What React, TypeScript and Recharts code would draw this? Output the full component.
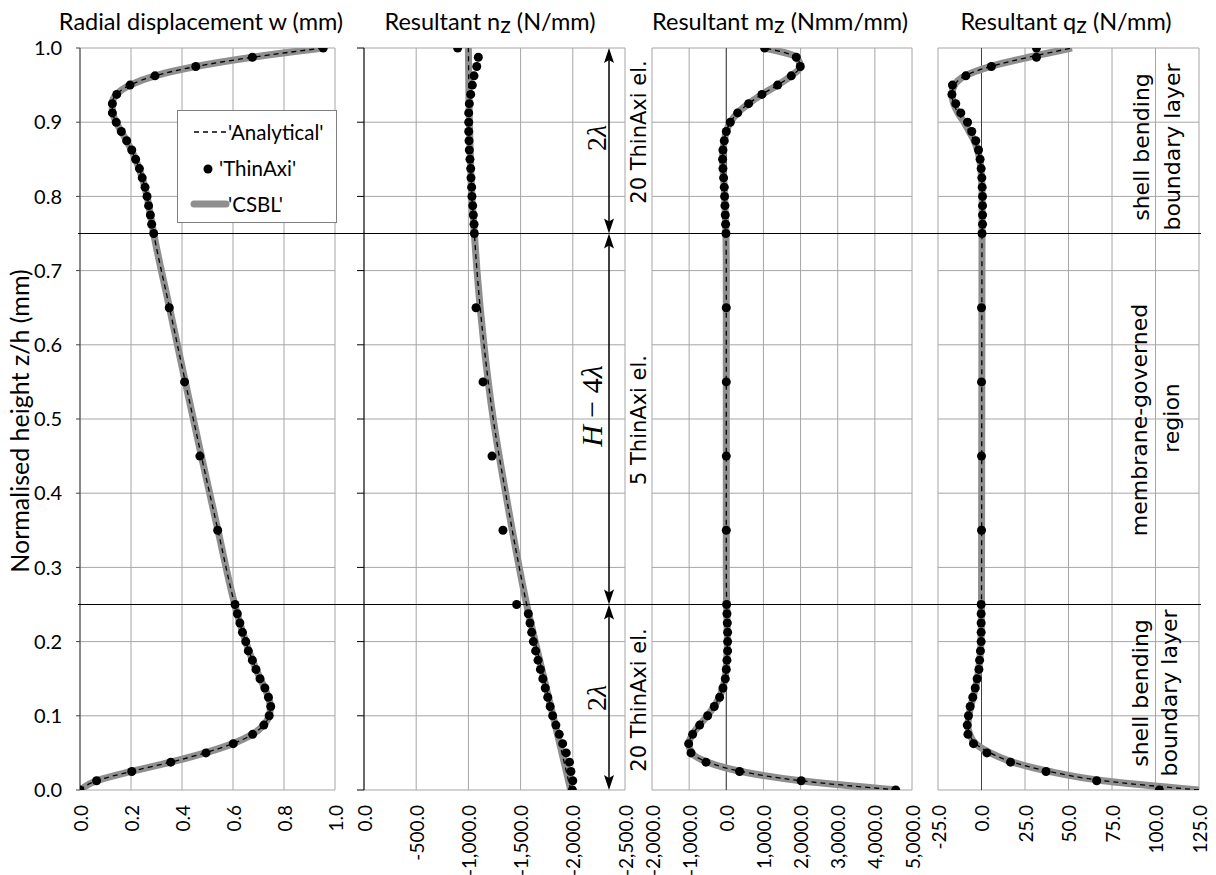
import React from 'react';
import { LineChart, Line, XAxis, YAxis, CartesianGrid, ReferenceLine } from 'recharts';

// normalised height ticks, shared by every panel
const zTicks = [0, 0.1, 0.2, 0.3, 0.4, 0.5, 0.6, 0.7, 0.8, 0.9, 1.0];
const wTicks = [0, 0.2, 0.4, 0.6, 0.8, 1.0];
const nTicks = [0, -500, -1000, -1500, -2000, -2500];
const mTicks = [-2000, -1000, 0, 1000, 2000, 3000, 4000, 5000];
const qTicks = [-25, 0, 25, 50, 75, 100, 125];

// all series are [z/h, value]
const wCurve = [
  [0, 0], [0.0125, 0.065], [0.025, 0.2], [0.0375, 0.355], [0.05, 0.49], [0.0625, 0.6], [0.075, 0.676],
  [0.0875, 0.72], [0.1, 0.742], [0.1125, 0.747], [0.125, 0.739], [0.1375, 0.724], [0.15, 0.707],
  [0.175, 0.676], [0.2, 0.65], [0.225, 0.627], [0.25, 0.607], [0.35, 0.541], [0.45, 0.476],
  [0.55, 0.413], [0.65, 0.351], [0.75, 0.289], [0.775, 0.276], [0.8, 0.263], [0.825, 0.244],
  [0.85, 0.218], [0.875, 0.183], [0.9, 0.142], [0.9125, 0.128], [0.925, 0.126], [0.9375, 0.143],
  [0.95, 0.196], [0.9625, 0.294], [0.975, 0.454], [0.9875, 0.676], [1.0, 0.954],
];
const wDots = [
  [0, 0], [0.0125, 0.065], [0.025, 0.203], [0.0375, 0.356], [0.05, 0.494], [0.0625, 0.601], [0.075, 0.677],
  [0.0875, 0.721], [0.1, 0.742], [0.1125, 0.748], [0.125, 0.739], [0.1375, 0.725], [0.15, 0.706],
  [0.1625, 0.69], [0.175, 0.676], [0.1875, 0.66], [0.2, 0.65], [0.2125, 0.637], [0.225, 0.627],
  [0.2375, 0.617], [0.25, 0.608], [0.35, 0.54], [0.45, 0.47], [0.55, 0.41], [0.65, 0.35],
  [0.75, 0.289], [0.7625, 0.281], [0.775, 0.276], [0.7875, 0.269], [0.8, 0.263], [0.8125, 0.255],
  [0.825, 0.244], [0.8375, 0.233], [0.85, 0.218], [0.8625, 0.203], [0.875, 0.183], [0.8875, 0.162],
  [0.9, 0.142], [0.9125, 0.127], [0.925, 0.127], [0.9375, 0.144], [0.95, 0.196], [0.9625, 0.294],
  [0.975, 0.454], [0.9875, 0.676], [1.0, 0.954],
];

const nCurve = [
  [0, -1980], [0.05, -1896], [0.1, -1811], [0.15, -1725], [0.2, -1640], [0.25, -1558], [0.3, -1487],
  [0.4, -1357], [0.5, -1238], [0.6, -1149], [0.7, -1082], [0.75, -1057], [0.8, -1034], [0.9, -1010],
  [1.0, -1000],
];
const nDots = [
  [0, -1996], [0.0125, -2000], [0.025, -1982], [0.0375, -1968], [0.05, -1937], [0.0625, -1903],
  [0.075, -1870], [0.0875, -1838], [0.1, -1807], [0.1125, -1783], [0.125, -1760], [0.1375, -1736],
  [0.15, -1713], [0.1625, -1690], [0.175, -1667], [0.1875, -1644], [0.2, -1622], [0.2125, -1606],
  [0.225, -1590], [0.2375, -1574], [0.25, -1462], [0.35, -1331], [0.45, -1226], [0.55, -1140],
  [0.65, -1073], [0.75, -1057], [0.7625, -1054], [0.775, -1047], [0.7875, -1041], [0.8, -1034],
  [0.8125, -1031], [0.825, -1025], [0.8375, -1022], [0.85, -1015], [0.8625, -1009], [0.875, -1006],
  [0.8875, -1003], [0.9, -1003], [0.9125, -1003], [0.925, -1009], [0.9375, -1022], [0.95, -1038],
  [0.9625, -1054], [0.975, -1080], [0.9875, -1095], [1.0, -897],
];

const mCurve = [
  [0, 4600], [0.0125, 2000], [0.025, 400], [0.0375, -500], [0.05, -930], [0.0625, -1010], [0.075, -910],
  [0.0875, -720], [0.1, -510], [0.1125, -330], [0.125, -185], [0.1375, -95], [0.15, -35], [0.175, 10],
  [0.2, 30], [0.25, 10], [0.3, 0], [0.7, 0], [0.75, -9], [0.775, -27], [0.8, -45], [0.825, -72],
  [0.8375, -90], [0.85, -99], [0.8625, -90], [0.875, -54], [0.8875, 0], [0.9, 108], [0.9125, 305],
  [0.925, 601], [0.9375, 960], [0.95, 1382], [0.9625, 1750], [0.975, 1993], [0.9875, 1885], [1.0, 1032],
];
const mDots = [
  [0, 4561], [0.0125, 2016], [0.025, 358], [0.0375, -547], [0.05, -950], [0.0625, -1013], [0.075, -905],
  [0.0875, -717], [0.1, -502], [0.1125, -323], [0.125, -179], [0.1375, -90], [0.15, -27], [0.1625, 0],
  [0.175, 18], [0.1875, 36], [0.2, 36], [0.2125, 36], [0.225, 27], [0.2375, 18], [0.25, 9],
  [0.35, 0], [0.45, 0], [0.55, 0], [0.65, 0],
  [0.75, -9], [0.7625, -18], [0.775, -27], [0.7875, -36], [0.8, -45], [0.8125, -54], [0.825, -72],
  [0.8375, -90], [0.85, -99], [0.8625, -90], [0.875, -54], [0.8875, 0], [0.9, 108], [0.9125, 305],
  [0.925, 601], [0.9375, 960], [0.95, 1382], [0.9625, 1750], [0.975, 1993], [0.9875, 1885], [1.0, 1032],
];

const qCurve = [
  [0, 125], [0.0125, 70], [0.025, 39], [0.0375, 18], [0.05, 5], [0.0625, -3.4], [0.075, -6.8],
  [0.0875, -7.8], [0.1, -7.2], [0.1125, -6.2], [0.125, -4.8], [0.15, -2.4], [0.175, -1], [0.2, -0.3],
  [0.25, 0], [0.75, 0.3], [0.8, 0.4], [0.825, 0], [0.85, -1], [0.8625, -2.3], [0.875, -4.2],
  [0.8875, -7.1], [0.9, -10], [0.9125, -13.5], [0.925, -16], [0.9375, -17], [0.95, -15.5],
  [0.9625, -9.5], [0.975, 5], [0.9875, 27], [1.0, 52],
];
const qDots = [
  [0, 102.2], [0.0125, 66.2], [0.025, 37.1], [0.0375, 16.7], [0.05, 3.1], [0.0625, -4.6], [0.075, -7.8],
  [0.0875, -8.2], [0.1, -7.5], [0.1125, -6.5], [0.125, -5], [0.1375, -3.6], [0.15, -2.5], [0.1625, -1.5],
  [0.175, -1.1], [0.1875, -0.6], [0.2, -0.2], [0.2125, -0.2], [0.225, -0.2], [0.2375, -0.2], [0.25, -0.2],
  [0.35, 0], [0.45, 0], [0.55, 0], [0.65, 0],
  [0.75, 0.3], [0.7625, 0.6], [0.775, 0.6], [0.7875, 0.6], [0.8, 0.6], [0.8125, 0.4], [0.825, 0.2],
  [0.8375, -0.2], [0.85, -0.8], [0.8625, -1.7], [0.875, -3.3], [0.8875, -5.6], [0.9, -8], [0.9125, -11.9],
  [0.925, -14.8], [0.9375, -17], [0.95, -16.7], [0.9625, -9], [0.975, 5.7], [0.9875, 31.6], [1.0, 31.6],
];

// region boundaries (2λ from each edge) and the arrows between them
const regionBounds = [0.25, 0.75];
const arrowSpans = [[0, 0.25], [0.25, 0.75], [0.75, 1.0]];
const legendNames = ["'Analytical'", "'ThinAxi'", "'CSBL'"];

const LABEL_FONT = "Lato, 'Open Sans', sans-serif";
const NOTE_FONT = "'DejaVu Sans', sans-serif";
const MATH_FONT = "'Liberation Serif', 'DejaVu Serif', serif";

const W = 1216;
const H = 875;
const PLOT_TOP = 48;
const PLOT_BOTTOM = 790;
const AXIS_H = H - PLOT_BOTTOM;
const SIDE = 14;
const ARROW_X = 609;
const SPAN_LEFT = 78;
const SPAN_RIGHT = 1201;

const GRID = '#a6a6a6';
const CSBL_GREY = '#8f8f8f';

const toRows = (pts: number[][]) => pts.map(([z, x]) => ({ z, x }));
const fmt1 = (v: number) => v.toLocaleString('en-US', { minimumFractionDigits: 1, maximumFractionDigits: 1 });
const NoTick = () => <g />;

const RotatedTick = (props: any) => {
  const { x, y, payload } = props;
  return (
    <text transform={`translate(${x},${y}) rotate(-90)`} textAnchor="end" dominantBaseline="central"
      fontFamily={LABEL_FONT} fontSize={19} fill="#000">
      {fmt1(payload.value)}
    </text>
  );
};

const ArrowShape = (p: any) => {
  const { x1, y1, y2 } = p;
  const top = Math.min(y1, y2);
  const bot = Math.max(y1, y2);
  return (
    <g>
      <line x1={x1} y1={top + 4} x2={x1} y2={bot - 4} stroke="#000" strokeWidth={1.5} />
      <polygon points={`${x1},${top} ${x1 - 5},${top + 15} ${x1},${top + 12} ${x1 + 5},${top + 15}`} fill="#000" />
      <polygon points={`${x1},${bot} ${x1 - 5},${bot - 15} ${x1},${bot - 12} ${x1 + 5},${bot - 15}`} fill="#000" />
    </g>
  );
};

type PanelCfg = {
  plotLeft: number;
  plotWidth: number;
  domain: [number, number];
  ticks: number[];
  reversed?: boolean;
  yAxis: 'labels' | 'ticks' | 'none';
  zeroAxis?: boolean;
  curve: number[][];
  dots: number[][];
};

const panels: PanelCfg[] = [
  { plotLeft: 80, plotWidth: 255, domain: [0, 1], ticks: wTicks, yAxis: 'labels', curve: wCurve, dots: wDots },
  { plotLeft: 364, plotWidth: 261, domain: [-2500, 0], ticks: nTicks, reversed: true, yAxis: 'ticks', curve: nCurve, dots: nDots },
  { plotLeft: 652, plotWidth: 260, domain: [-2000, 5000], ticks: mTicks, yAxis: 'none', zeroAxis: true, curve: mCurve, dots: mDots },
  { plotLeft: 938, plotWidth: 261, domain: [-25, 125], ticks: qTicks, yAxis: 'none', zeroAxis: true, curve: qCurve, dots: qDots },
];

const Panel: React.FC<{ cfg: PanelCfg }> = ({ cfg }) => {
  const yW = cfg.yAxis === 'labels' ? 60 : cfg.yAxis === 'ticks' ? 8 : 0;
  const chartW = SIDE + yW + cfg.plotWidth + SIDE;
  const left = cfg.plotLeft - yW - SIDE;
  const curveRows = toRows(cfg.curve);
  return (
    <div style={{ position: 'absolute', left, top: 0 }}>
      <LineChart width={chartW} height={H} margin={{ top: PLOT_TOP, right: SIDE, bottom: 0, left: SIDE }}>
        <CartesianGrid stroke={GRID} />
        <XAxis type="number" dataKey="x" domain={cfg.domain} ticks={cfg.ticks} reversed={cfg.reversed}
          allowDataOverflow interval={0} axisLine={false} tickLine={false} tickSize={0} tickMargin={15}
          height={AXIS_H} tick={<RotatedTick />} />
        {cfg.yAxis === 'labels' && (
          <YAxis type="number" domain={[0, 1]} ticks={zTicks} interval={0} width={yW} allowDataOverflow
            tickFormatter={(v: number) => v.toFixed(1)}
            tick={{ fontSize: 20, fill: '#000', fontFamily: LABEL_FONT }}
            axisLine={{ stroke: '#404040' }} tickLine={{ stroke: '#404040' }} tickSize={4} tickMargin={14} />
        )}
        {cfg.yAxis === 'ticks' && (
          <YAxis type="number" domain={[0, 1]} ticks={zTicks} interval={0} width={yW} allowDataOverflow
            tick={NoTick} tickSize={7} axisLine={{ stroke: '#000' }} tickLine={{ stroke: '#000' }} />
        )}
        {cfg.yAxis === 'none' && (
          <YAxis type="number" domain={[0, 1]} ticks={zTicks} interval={0} width={0} allowDataOverflow
            tick={NoTick} axisLine={false} tickLine={false} />
        )}
        {cfg.zeroAxis && <ReferenceLine x={0} stroke="#404040" />}
        <Line data={curveRows} dataKey="z" name="CSBL" type="monotoneY" stroke={CSBL_GREY} strokeWidth={7}
          dot={false} activeDot={false} isAnimationActive={false} />
        <Line data={curveRows} dataKey="z" name="Analytical" type="monotoneY" stroke="#000" strokeWidth={1.3}
          strokeDasharray="5 4" dot={false} activeDot={false} isAnimationActive={false} />
        <Line data={toRows(cfg.dots)} dataKey="z" name="ThinAxi" stroke="none"
          dot={{ r: 4.5, fill: '#000', stroke: 'none' }} activeDot={false} isAnimationActive={false} />
      </LineChart>
    </div>
  );
};

const LegendBox = () => (
  <div style={{ position: 'absolute', left: 177, top: 110, width: 158, height: 111, background: '#fff', border: '1px solid #7f7f7f' }}>
    <svg width={158} height={111}>
      <line x1={16} x2={50} y1={21} y2={21} stroke="#000" strokeWidth={1.3} strokeDasharray="5 4" />
      <circle cx={30} cy={58} r={4.5} fill="#000" />
      <line x1={16} x2={48} y1={93} y2={93} stroke={CSBL_GREY} strokeWidth={7} strokeLinecap="round" />
      {legendNames.map((name, i) => (
        <text key={name} x={i === 1 ? 41 : 50} y={21 + i * 36} dominantBaseline="central"
          fontFamily={LABEL_FONT} fontSize={20.5} fill="#000">{name}</text>
      ))}
    </svg>
  </div>
);

const vText = (x: number, y: number, content: React.ReactNode, font: string, size: number, key: string) => (
  <text key={key} transform={`translate(${x},${y}) rotate(-90)`} textAnchor="middle" dominantBaseline="central"
    fontFamily={font} fontSize={size} fill="#000">{content}</text>
);

const Notes = () => (
  <svg width={W} height={H} style={{ position: 'absolute', left: 0, top: 0, pointerEvents: 'none' }}>
    <g fontFamily={LABEL_FONT} fontSize={23.5} fill="#000" textAnchor="middle">
      <text x={201} y={30}>Radial displacement w (mm)</text>
      <text x={490} y={30}>Resultant n<tspan dy={3}>z</tspan><tspan dy={-3}> (N/mm)</tspan></text>
      <text x={780} y={30}>Resultant m<tspan dy={3}>z</tspan><tspan dy={-3}> (Nmm/mm)</tspan></text>
      <text x={1066} y={30}>Resultant q<tspan dy={3}>z</tspan><tspan dy={-3}> (N/mm)</tspan></text>
    </g>
    {vText(19, 421, 'Normalised height z/h (mm)', LABEL_FONT, 25, 'ylab')}
    {vText(596, 138, <><tspan>2</tspan><tspan fontStyle="italic">λ</tspan></>, MATH_FONT, 28, 'l1')}
    {vText(591, 406, <><tspan fontStyle="italic">H</tspan><tspan> − 4</tspan><tspan fontStyle="italic">λ</tspan></>, MATH_FONT, 30, 'l2')}
    {vText(596, 698, <><tspan>2</tspan><tspan fontStyle="italic">λ</tspan></>, MATH_FONT, 28, 'l3')}
    {vText(639, 132, '20 ThinAxi el.', NOTE_FONT, 21, 'e1')}
    {vText(639, 420, '5 ThinAxi el.', NOTE_FONT, 21, 'e2')}
    {vText(639, 700, '20 ThinAxi el.', NOTE_FONT, 21, 'e3')}
    {vText(1141, 147, 'shell bending', NOTE_FONT, 22, 's1')}
    {vText(1172, 147, 'boundary layer', NOTE_FONT, 22, 's2')}
    {vText(1139, 420, 'membrane-governed', NOTE_FONT, 22, 'm1')}
    {vText(1171, 418, 'region', NOTE_FONT, 22, 'm2')}
    {vText(1140, 693, 'shell bending', NOTE_FONT, 22, 's3')}
    {vText(1169, 693, 'boundary layer', NOTE_FONT, 22, 's4')}
  </svg>
);

export default function App() {
  return (
    <div style={{ position: 'absolute', left: 0, top: 0, width: W, height: H, background: '#fff', overflow: 'hidden' }}>
      {panels.map((p, i) => <Panel key={i} cfg={p} />)}
      <div style={{ position: 'absolute', left: 0, top: 0, pointerEvents: 'none' }}>
        <LineChart width={W} height={H} data={regionBounds.map((z) => ({ x: ARROW_X, z }))}
          margin={{ top: PLOT_TOP, right: W - SPAN_RIGHT, bottom: 0, left: SPAN_LEFT }}>
          <XAxis type="number" dataKey="x" domain={[SPAN_LEFT, SPAN_RIGHT]} allowDataOverflow height={AXIS_H}
            tick={NoTick} axisLine={false} tickLine={false} />
          <YAxis type="number" domain={[0, 1]} allowDataOverflow width={0}
            tick={NoTick} axisLine={false} tickLine={false} />
          {regionBounds.map((z) => <ReferenceLine key={z} y={z} stroke="#000" strokeWidth={1.2} />)}
          {arrowSpans.map(([a, b]) => (
            <ReferenceLine key={a} segment={[{ x: ARROW_X, y: a }, { x: ARROW_X, y: b }]} shape={ArrowShape} />
          ))}
        </LineChart>
      </div>
      <LegendBox />
      <Notes />
    </div>
  );
}
